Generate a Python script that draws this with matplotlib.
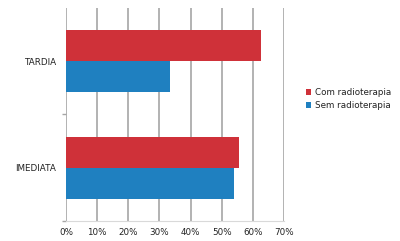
import matplotlib.pyplot as plt
from matplotlib.ticker import FuncFormatter

# categories (bottom to top) and series values in %
categorias = ['IMEDIATA', 'TARDIA']
com_radioterapia = [55.7, 62.7]
sem_radioterapia = [53.9, 33.3]
xticks = [0, 10, 20, 30, 40, 50, 60, 70]

red = '#cf3139'
blue = '#1f80c0'
grid_color = '#a6a6a6'

fig = plt.figure(figsize=(4, 2.41), dpi=100)
ax = fig.add_axes([0.165, 0.083, 0.545, 0.884])

h = 0.29
pos = range(len(categorias))
ax.barh([p + h / 2 for p in pos], com_radioterapia, height=h, color=red, label='Com radioterapia', zorder=3)
ax.barh([p - h / 2 for p in pos], sem_radioterapia, height=h, color=blue, label='Sem radioterapia', zorder=3)

ax.set_xlim(0, 70)
ax.set_ylim(-0.5, 1.5)
ax.set_xticks(xticks)
ax.xaxis.set_major_formatter(FuncFormatter(lambda v, p: '%d%%' % v))
ax.set_yticks(list(pos))
ax.set_yticklabels(categorias)
ax.set_yticks([-0.5, 0.5], minor=True)

ax.grid(axis='x', color=grid_color, linewidth=1.2, zorder=0)
for s in ['top', 'right', 'left']:
    ax.spines[s].set_visible(False)
ax.spines['bottom'].set_color('#d9d9d9')
ax.spines['bottom'].set_linewidth(0.8)

ax.tick_params(axis='x', length=0, labelsize=6.3, colors='#222222', pad=5)
ax.tick_params(axis='y', which='major', length=0, labelsize=6.3, colors='#222222', pad=7)
ax.tick_params(axis='y', which='minor', length=3, color=grid_color, width=1)

ax.legend(loc='upper left', bbox_to_anchor=(1.085, 0.64), frameon=False, fontsize=6.3,
          handlelength=0.6, handleheight=0.6, handletextpad=0.4, labelspacing=0.45,
          labelcolor='#222222', borderaxespad=0)

fig.savefig('out.png', dpi=100)
